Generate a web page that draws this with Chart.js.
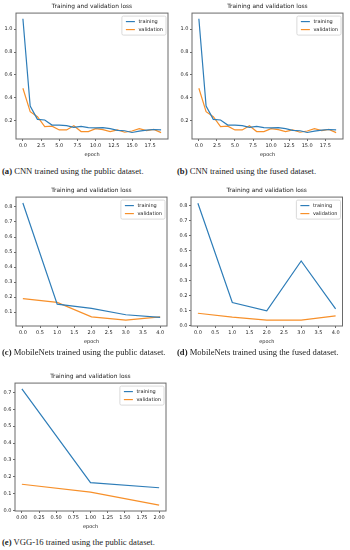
<!DOCTYPE html>
<html><head><meta charset="utf-8">
<script src="https://cdn.jsdelivr.net/npm/chart.js@4.4.0/dist/chart.umd.min.js"></script>
<style>
html,body{margin:0;padding:0;background:#fff;width:350px;height:550px;overflow:hidden;position:relative}
canvas{position:absolute}
.cap{position:absolute;font-family:"Liberation Serif","DejaVu Serif",serif;font-size:8.6px;color:#222;white-space:nowrap;line-height:10px}
</style></head><body>
<canvas id="pa"></canvas><canvas id="pb"></canvas><canvas id="pc"></canvas><canvas id="pd"></canvas><canvas id="pe"></canvas>
<div class="cap" style="left:2px;top:166px"><b>(a)</b> CNN trained using the public dataset.</div>
<div class="cap" style="left:177px;top:166px"><b>(b)</b> CNN trained using the fused dataset.</div>
<div class="cap" style="left:2px;top:347px"><b>(c)</b> MobileNets trained using the public dataset.</div>
<div class="cap" style="left:177px;top:347px"><b>(d)</b> MobileNets trained using the fused dataset.</div>
<div class="cap" style="left:2px;top:537px"><b>(e)</b> VGG-16 trained using the public dataset.</div>
<script>
// ---- data ----
const seriesNames = ['training', 'validation'];
const chartTitle = 'Training and validation loss';
const xAxisLabel = 'epoch';

const cnnEpochs = [0,1,2,3,4,5,6,7,8,9,10,11,12,13,14,15,16,17,18,19];
const cnnPublicTraining   = [1.09,0.328,0.212,0.206,0.162,0.162,0.157,0.142,0.151,0.140,0.137,0.140,0.130,0.115,0.112,0.097,0.108,0.117,0.123,0.120];
const cnnPublicValidation = [0.483,0.279,0.235,0.148,0.152,0.119,0.119,0.155,0.105,0.105,0.130,0.122,0.105,0.119,0.099,0.110,0.130,0.113,0.124,0.096];
const cnnFusedTraining    = [1.09,0.328,0.212,0.206,0.162,0.162,0.157,0.142,0.151,0.140,0.137,0.140,0.130,0.115,0.112,0.097,0.108,0.117,0.123,0.120];
const cnnFusedValidation  = [0.483,0.279,0.235,0.148,0.152,0.119,0.119,0.155,0.105,0.105,0.130,0.122,0.105,0.119,0.099,0.110,0.130,0.113,0.124,0.096];

const mobileEpochs = [0,1,2,3,4];
const mobilePublicTraining   = [0.827,0.153,0.124,0.082,0.064];
const mobilePublicValidation = [0.189,0.164,0.068,0.046,0.068];
const mobileFusedTraining    = [0.818,0.156,0.100,0.433,0.113];
const mobileFusedValidation  = [0.084,0.058,0.038,0.038,0.067];

const vggEpochs = [0,1,2];
const vggPublicTraining   = [0.721,0.165,0.134];
const vggPublicValidation = [0.155,0.108,0.031];

const cnnXTicks = [0,2.5,5,7.5,10,12.5,15,17.5];
const cnnYTicks = [0.2,0.4,0.6,0.8,1.0];
const mobileXTicks = [0,0.5,1,1.5,2,2.5,3,3.5,4];
const mobilePublicYTicks = [0.1,0.2,0.3,0.4,0.5,0.6,0.7,0.8];
const mobileFusedYTicks = [0,0.1,0.2,0.3,0.4,0.5,0.6,0.7,0.8];
const vggXTicks = [0,0.25,0.5,0.75,1,1.25,1.5,1.75,2];
const vggYTicks = [0,0.1,0.2,0.3,0.4,0.5,0.6,0.7];

// ---- style ----
const BLUE = '#2e7db8', ORANGE = '#f7902a';
const SANS = '"DejaVu Sans", sans-serif';
const TXT = '#222', SPINE = '#6a6a6a';

const framePlugin = {
  id: 'frame',
  afterDraw(chart) {
    const {ctx, chartArea: a} = chart;
    ctx.save();
    ctx.strokeStyle = SPINE; ctx.lineWidth = 1;
    ctx.strokeRect(a.left, a.top, a.right - a.left, a.bottom - a.top);
    ctx.restore();
  }
};
const innerLegend = {
  id: 'innerLegend',
  afterDraw(chart) {
    const {ctx, chartArea: a} = chart;
    ctx.save();
    ctx.font = '5px ' + SANS;
    const tw = Math.max(...chart.data.datasets.map(d => ctx.measureText(d.label).width));
    const w = 16.5 + tw + 3, h = 19;
    const bx = a.right - 2 - w, by = a.top + 3;
    ctx.fillStyle = 'rgba(255,255,255,0.85)';
    ctx.strokeStyle = '#d0d0d0'; ctx.lineWidth = 0.8;
    ctx.beginPath(); ctx.roundRect(bx, by, w, h, 1.5); ctx.fill(); ctx.stroke();
    chart.data.datasets.forEach((d, i) => {
      const y = by + 5.5 + i * 8;
      ctx.strokeStyle = d.borderColor; ctx.lineWidth = 1.2;
      ctx.beginPath(); ctx.moveTo(bx + 4, y); ctx.lineTo(bx + 13, y); ctx.stroke();
      ctx.fillStyle = TXT; ctx.textBaseline = 'middle'; ctx.textAlign = 'left';
      ctx.fillText(d.label, bx + 16.5, y);
    });
    ctx.restore();
  }
};

function makePanel(id, g, epochs, train, val, xTicks, yTicks, xr, yr, xDec) {
  const cv = document.getElementById(id);
  const H = Math.round((g.bottom - g.top) + 13 + 24);
  cv.width = 175; cv.height = H;
  cv.style.left = g.px + 'px'; cv.style.top = (g.top - 13) + 'px';
  const tickFont = {family: SANS, size: 5};
  new Chart(cv, {
    type: 'line',
    data: {datasets: [
      {label: seriesNames[0], data: epochs.map((e, i) => ({x: e, y: train[i]})), borderColor: BLUE, borderWidth: 1.2, pointRadius: 0, tension: 0, fill: false},
      {label: seriesNames[1], data: epochs.map((e, i) => ({x: e, y: val[i]})), borderColor: ORANGE, borderWidth: 1.2, pointRadius: 0, tension: 0, fill: false}
    ]},
    options: {
      responsive: false, animation: false, devicePixelRatio: 1,
      layout: {padding: {left: g.left - g.px - 16, right: g.px + 175 - g.right, top: 0, bottom: 0}},
      plugins: {
        legend: {display: false}, tooltip: {enabled: false},
        title: {display: true, text: chartTitle, fullSize: false, color: TXT, font: {family: SANS, size: 5.9, weight: 'normal'}, padding: {top: 2.5, bottom: 3.5}}
      },
      scales: {
        x: {
          type: 'linear', min: xr[0], max: xr[1],
          afterBuildTicks: s => { s.ticks = xTicks.map(v => ({value: v})); },
          afterFit: s => { s.height = 24; },
          ticks: {callback: v => Number(v).toFixed(xDec), font: tickFont, color: TXT, padding: 1.5, maxRotation: 0, autoSkip: false},
          grid: {drawOnChartArea: false, drawTicks: true, tickLength: 2, color: SPINE},
          border: {display: false},
          title: {display: true, text: xAxisLabel, color: TXT, font: {family: SANS, size: 5}, padding: {top: 0, bottom: 5}}
        },
        y: {
          type: 'linear', min: yr[0], max: yr[1],
          afterBuildTicks: s => { s.ticks = yTicks.map(v => ({value: v})); },
          afterFit: s => { s.width = 16; },
          ticks: {callback: v => Number(v).toFixed(1), font: tickFont, color: TXT, padding: 1.5, autoSkip: false},
          grid: {drawOnChartArea: false, drawTicks: true, tickLength: 2, color: SPINE},
          border: {display: false}
        }
      }
    },
    plugins: [framePlugin, innerLegend]
  });
}

makePanel('pa', {px: 0,   left: 16,  right: 168,   top: 13,    bottom: 139},   cnnEpochs, cnnPublicTraining, cnnPublicValidation, cnnXTicks, cnnYTicks, [-0.95, 19.95], [0.04, 1.14], 1);
makePanel('pb', {px: 175, left: 192, right: 343,   top: 13,    bottom: 139},   cnnEpochs, cnnFusedTraining, cnnFusedValidation, cnnXTicks, cnnYTicks, [-0.95, 19.95], [0.04, 1.14], 1);
makePanel('pc', {px: 0,   left: 16,  right: 167,   top: 197,   bottom: 326},   mobileEpochs, mobilePublicTraining, mobilePublicValidation, mobileXTicks, mobilePublicYTicks, [-0.2, 4.2], [0.007, 0.866], 1);
makePanel('pd', {px: 175, left: 191, right: 342.5, top: 197,   bottom: 326},   mobileEpochs, mobileFusedTraining, mobileFusedValidation, mobileXTicks, mobileFusedYTicks, [-0.2, 4.2], [-0.001, 0.859], 1);
makePanel('pe', {px: 0,   left: 15,  right: 166,   top: 383,   bottom: 511},   vggEpochs, vggPublicTraining, vggPublicValidation, vggXTicks, vggYTicks, [-0.1, 2.1], [-0.004, 0.756], 2);
</script>
</body></html>
